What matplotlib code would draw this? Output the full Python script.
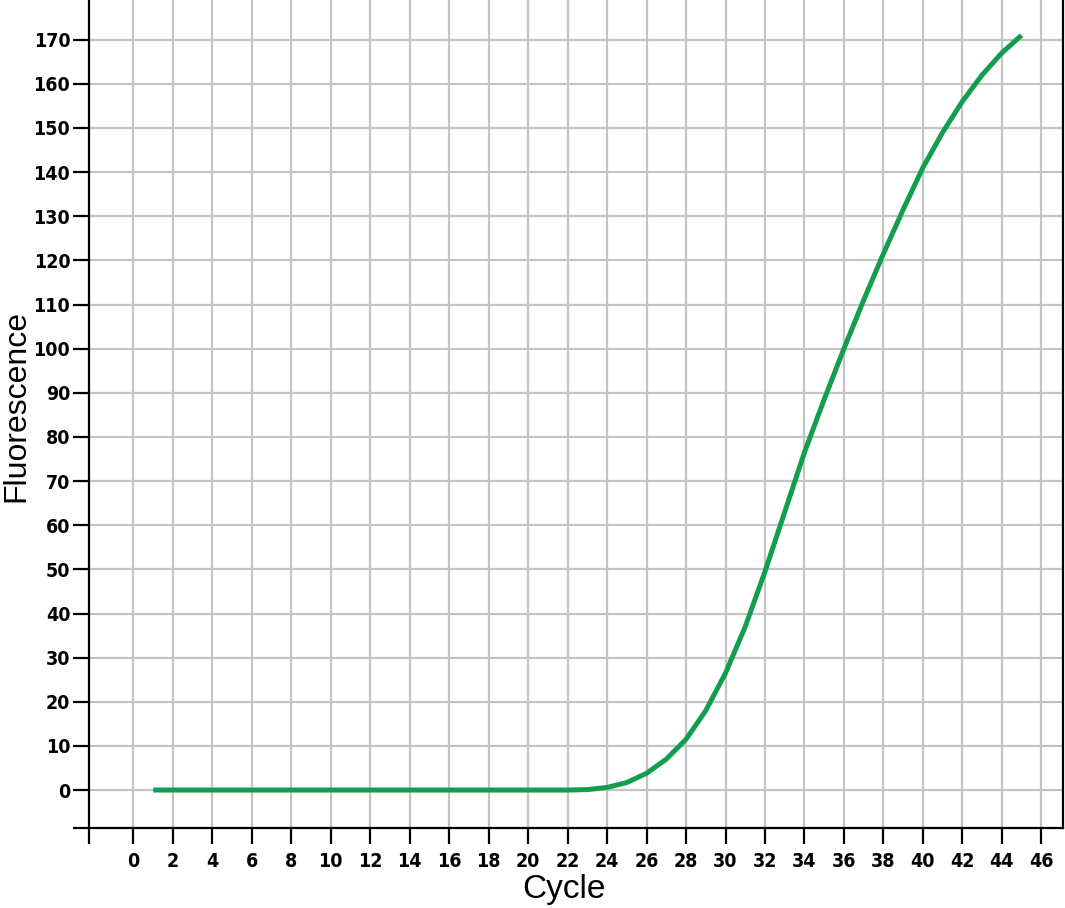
import matplotlib
matplotlib.use('Agg')
import matplotlib.pyplot as plt

# qPCR amplification curve
cycles = list(range(1, 46))
fluorescence = [0] * 22 + [
    0.1, 0.6, 1.7, 3.8, 7.0, 11.5, 18.0, 26.5, 37.0, 49.5,
    63.0, 76.5, 88.5, 100.0, 111.0, 121.5, 131.5, 141.0, 149.0, 156.0,
    162.0, 167.0, 171.0,
]
x_ticks = list(range(0, 47, 2))
y_ticks = list(range(0, 171, 10))

X_MIN, X_MAX = -2.25, 47.1
Y_MIN, Y_MAX = -8.6, 179.0

label_font = ['Liberation Sans', 'DejaVu Sans']

fig = plt.figure(figsize=(10.65, 9.08), dpi=100)
ax = fig.add_axes([0.0836, 0.0881, 0.9145, 0.9119])

ax.plot(cycles, fluorescence, color='#139e4f', linewidth=3.6,
        solid_capstyle='butt', zorder=3)

ax.set_xlim(X_MIN, X_MAX)
ax.set_ylim(Y_MIN, Y_MAX)

# grid only at the labelled ticks
for x in x_ticks:
    ax.axvline(x, color='#c4c4c4', linewidth=1.6, zorder=1)
for y in y_ticks:
    ax.axhline(y, color='#c4c4c4', linewidth=1.6, zorder=1)

# extra unlabelled ticks at the limits make the spines look crossed
ax.set_xticks([X_MIN] + x_ticks)
ax.set_xticklabels([''] + [str(v) for v in x_ticks])
ax.set_yticks([Y_MIN] + y_ticks)
ax.set_yticklabels([''] + [str(v) for v in y_ticks])

ax.tick_params(axis='both', direction='out', length=11.5, width=1.6,
               color='black')
ax.tick_params(axis='x', pad=6)
ax.tick_params(axis='y', pad=2)
for lab in ax.get_xticklabels() + ax.get_yticklabels():
    lab.set_family('DejaVu Sans')
    lab.set_fontstretch('condensed')
    lab.set_fontweight('bold')
    lab.set_fontsize(14)

ax.spines['top'].set_visible(False)
for s in ('left', 'bottom', 'right'):
    ax.spines[s].set_linewidth(1.6)
    ax.spines[s].set_color('black')

ax.set_xlabel('Cycle', family=label_font, fontsize=24)
ax.xaxis.set_label_coords(0.488, -0.056)
ax.set_ylabel('Fluorescence', family=label_font, fontsize=23)
ax.yaxis.set_label_coords(-0.059, 0.51)

fig.savefig('out.png', dpi=100, facecolor='white')
